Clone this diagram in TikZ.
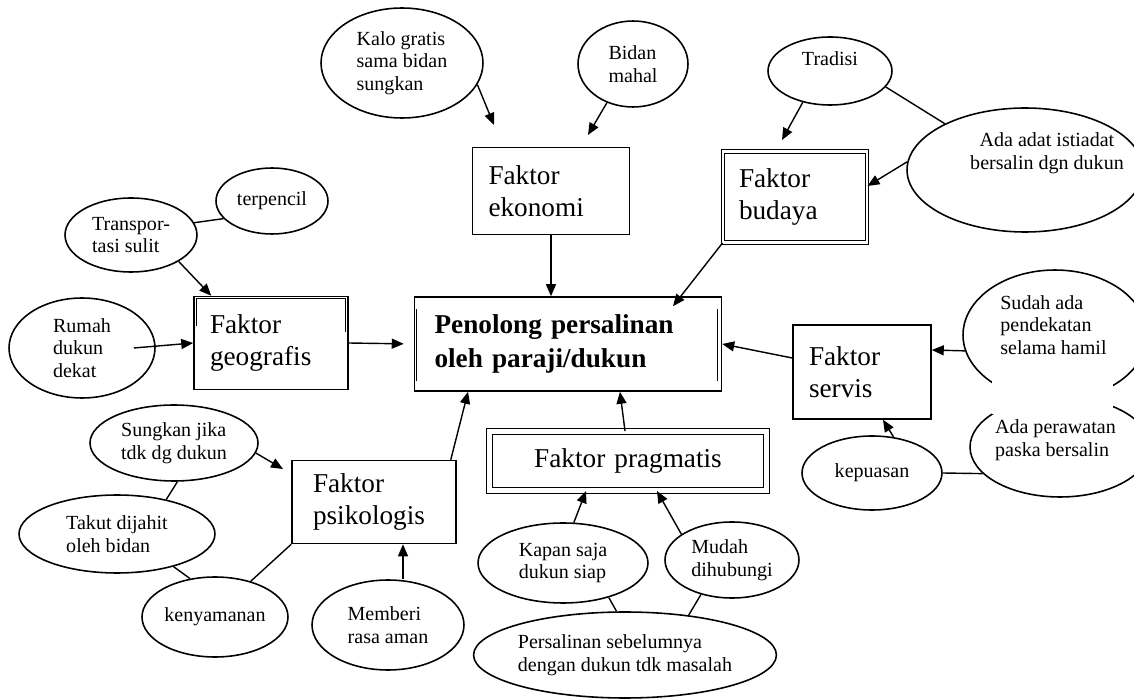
\documentclass[tikz,border=0pt]{standalone}
\usepackage{fontspec}
\setmainfont{Liberation Serif}
\usetikzlibrary{shapes.geometric,arrows.meta}

\tikzset{
  bub/.style={draw, ellipse, line width=0.9pt, inner sep=0pt, align=left},
  fbox/.style={draw, rectangle, line width=0.9pt, inner xsep=0.32cm, inner ysep=0pt,
    align=left, font=\fontsize{15.5}{18}\selectfont},
  arr/.style={-{Triangle[length=0.24cm,width=0.2cm]}, line width=0.8pt},
  link/.style={line width=0.8pt},
}

\def\bub#1#2#3#4#5{%
  \draw (#1) node[bub, minimum width=#2cm, minimum height=#3cm] (#4) {#5};
}

\begin{document}
\begin{tikzpicture}[x=0.02cm, y=-0.02cm, font=\fontsize{11.4}{12.8}\selectfont]
\useasboundingbox (0,0) rectangle (1134,699);

\draw (568,344) node[fbox, inner xsep=0.4cm, text width=5.34cm, minimum height=1.88cm,
  font=\fontsize{15.5}{19}\selectfont\bfseries] (mainbox) {Penolong persalinan\\oleh paraji/dukun};
\draw[line width=0.6pt] ([xshift=0.06cm,yshift=-0.26cm]mainbox.north west) -- ([xshift=0.06cm,yshift=0.22cm]mainbox.south west);
\draw[line width=0.6pt] ([xshift=-0.1cm,yshift=-0.26cm]mainbox.north east) -- ([xshift=-0.1cm,yshift=0.22cm]mainbox.south east);

\draw (551,191) node[fbox, text width=2.5cm, minimum height=1.74cm] (ekonomi) {Faktor\\ekonomi};
\draw (795,197) node[fbox, text width=2.24cm, minimum height=1.82cm, double, double distance=1.4pt, line width=0.6pt] (budaya) {Faktor\\budaya};
\draw (271,343) node[fbox, text width=2.44cm, minimum height=1.86cm] (geo) {Faktor\\geografis};
\draw[line width=0.6pt] ([xshift=0.06cm,yshift=-0.6cm]geo.north west) |- ([xshift=-0.06cm,yshift=-0.06cm]geo.north east) -- ++(0,-0.66cm);
\draw (374,502) node[fbox, inner xsep=0.42cm, text width=2.44cm, minimum height=1.66cm] (psiko) {Faktor\\psikologis};
\draw (628,461) node[fbox, align=center, text width=4.9cm, minimum height=1.18cm, double, double distance=2.4pt, line width=0.6pt] (prag) {Faktor pragmatis};
\draw (862,372) node[fbox, text width=2.12cm, minimum height=1.88cm] (servis) {Faktor\\servis};

\bub{402,63}{3.24}{2.2}{kalo}{Kalo gratis\\sama bidan\\sungkan}
\bub{633,64}{2.2}{1.72}{bidan}{Bidan\\mahal}
\bub{830,71}{2.48}{1.36}{trad}{}
\draw (830,59) node (tradtxt) {Tradisi};
\bub{1025,170}{4.72}{2.48}{adat}{}
\draw (1047,153) node[align=center] (adattxt) {Ada adat istiadat\\bersalin dgn dukun};
\bub{272,201}{2.24}{1.32}{terp}{terpencil}
\bub{131,235}{2.64}{1.48}{transp}{Transpor-\\tasi sulit}
\bub{82,348}{2.92}{2.0}{rumah}{Rumah\\dukun\\dekat}
\bub{174,443}{3.36}{1.52}{sungkan}{Sungkan jika\\tdk dg dukun}
\bub{117,534}{3.92}{1.56}{takut}{Takut dijahit\\oleh bidan}
\bub{215,617}{2.92}{1.6}{nyaman}{kenyamanan}
\bub{388,625}{3.04}{1.8}{memberi}{Memberi\\rasa aman}
\bub{563,563}{3.4}{1.6}{kapan}{Kapan saja\\dukun siap}
\bub{732,560}{2.68}{1.52}{mudah}{Mudah\\dihubungi}
\bub{625,655}{5.92}{1.72}{persal}{Persalinan sebelumnya\\dengan dukun tdk masalah}
\bub{872,473}{2.8}{1.48}{kepuas}{kepuasan}
\bub{1055,335}{3.68}{2.6}{sudah}{}
\bub{1060,447}{3.6}{2.0}{rawat}{}
\fill[white] (992,362) rectangle (1113,414);
\draw (1000,325) node[anchor=west, align=left, inner sep=0pt] (sudahtxt) {Sudah ada\\pendekatan\\selama hamil};
\draw (993,440) node[anchor=west, align=left, inner sep=1pt, fill=white] (rawattxt) {Ada perawatan\\paska bersalin};

\coordinate (kaloTip) at (494,125);
\coordinate (bidanTip) at (588,135);
\coordinate (tradTip) at (782,140);
\coordinate (sungTip) at (283,469);

\draw[arr] (kalo.-16) -- (kaloTip);
\draw[arr] (bidan.-124) -- (bidanTip);
\draw[arr] (ekonomi.south) -- (ekonomi.south |- mainbox.north);
\draw[arr] (trad.-131) -- (tradTip);
\draw[link] (trad.-16) -- (adat.150);
\draw[arr] (adat.176) -- ([yshift=0.22cm]budaya.east);
\draw[arr] (budaya.south west) -- ([xshift=2.1cm,yshift=-0.2cm]mainbox.north);
\draw[arr, shorten >=0.2cm] (geo.east) -- (mainbox.west);
\draw[link] (transp.11) -- (terp.-160);
\draw[arr] (transp.-29) -- ([xshift=0.36cm]geo.north west);
\draw[arr] ([xshift=-0.44cm]rumah.east) -- (geo.west);
\draw[arr] (sungkan.-7) -- (sungTip);
\draw[link] (sungkan.-85) -- (takut.35);
\draw[link] (takut.-30) -- (nyaman.123);
\draw[link] (nyaman.45) -- (psiko.south west);
\draw[arr] ([xshift=0.3cm]memberi.north) -- ([xshift=0.3cm]memberi.north |- psiko.south);
\draw[arr] ([xshift=-0.12cm]psiko.north east) -- ([xshift=-2cm]mainbox.south);
\draw[arr] ([xshift=-0.06cm]prag.north) -- ([xshift=1.04cm]mainbox.south);
\draw[arr] (kapan.75) -- ([xshift=-0.84cm]prag.south);
\draw[arr] (mudah.153) -- ([xshift=0.58cm]prag.south);
\draw[link] (persal.101) -- (kapan.-37);
\draw[link] (persal.32) -- (mudah.-132);
\draw[arr] ([yshift=0.28cm]servis.west) -- (mainbox.east);
\draw[arr] (sudah.-170) -- ([yshift=0.44cm]servis.east);
\draw[arr] (kepuas.59) -- ([xshift=0.42cm]servis.south);
\draw[link] (kepuas.east) -- (rawat.-161);
\end{tikzpicture}
\end{document}
